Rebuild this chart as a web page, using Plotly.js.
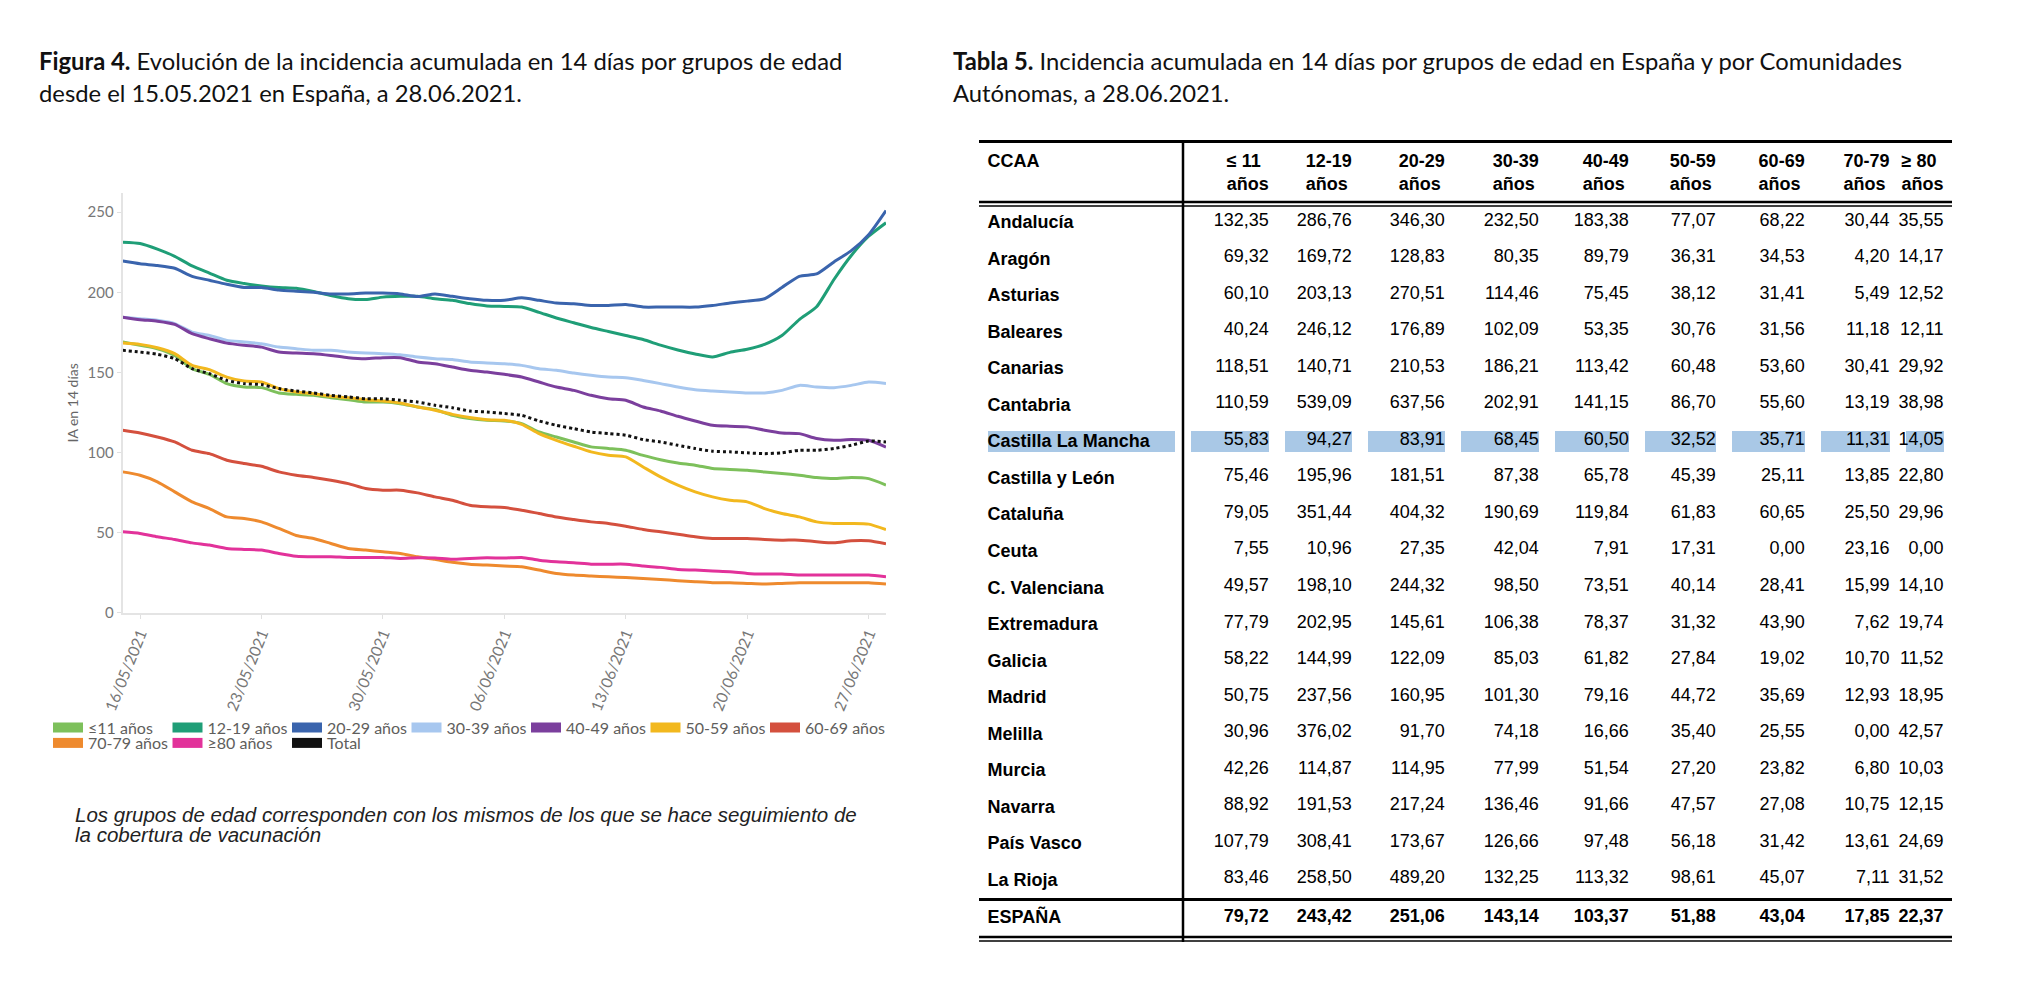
<!DOCTYPE html>
<html><head><meta charset="utf-8">
<script src="https://cdn.plot.ly/plotly-3.0.1.min.js"></script>
<style>html,body{margin:0;padding:0;background:#fff}#chart{width:2019px;height:992px}</style>
</head><body><div id="chart"></div>
<script>
// ---------- Figure 4 data (IA 14 días) ----------
const fechas = ["2021-05-15","2021-05-16","2021-05-17","2021-05-18","2021-05-19","2021-05-20","2021-05-21","2021-05-22","2021-05-23","2021-05-24","2021-05-25","2021-05-26","2021-05-27","2021-05-28","2021-05-29","2021-05-30","2021-05-31","2021-06-01","2021-06-02","2021-06-03","2021-06-04","2021-06-05","2021-06-06","2021-06-07","2021-06-08","2021-06-09","2021-06-10","2021-06-11","2021-06-12","2021-06-13","2021-06-14","2021-06-15","2021-06-16","2021-06-17","2021-06-18","2021-06-19","2021-06-20","2021-06-21","2021-06-22","2021-06-23","2021-06-24","2021-06-25","2021-06-26","2021-06-27","2021-06-28"];
const ia_le11 = [169,166.9,164.8,160.6,152.3,148.8,143,140.9,140.5,137.2,136.3,135.7,134.2,133,131.5,131.5,130.5,128.4,126.8,123.2,121.2,120.1,119.7,118,112.8,109.7,106.6,103.5,102.5,101.4,98.2,95.5,93.5,92.1,90,89.4,88.9,87.9,86.9,85.8,84.4,83.7,84.4,83.7,79.72];
const ia_12_19 = [231.3,230.5,227,222.5,216.5,212,207.5,205.5,204,203,202.5,200.5,198,196,195.5,197,197.5,197.5,196,195,193,191.5,191.2,190.8,187.5,184,181,178,175.5,173,170.5,167,164,161.5,159.6,162.5,164.5,167.5,173,183,191,208,223,235,243.42];
const ia_20_29 = [219.5,217.8,216.7,215,210,207.5,205,203,203,201.5,200.7,200,199,199,199.5,199.5,199,197.4,199,197.5,196,195,195,196.6,195,193.3,192.9,191.8,191.8,192.4,190.8,190.8,190.8,190.8,191.8,193.3,194.5,196,203,210,211.5,219,226,236,251.06];
const ia_30_39 = [184.5,183.5,182.5,180.4,175.2,173.1,170,169,167.9,165.8,164.8,163.8,163.8,162.7,162.1,161.7,161,159.6,158.6,158,156.5,155.9,155.4,154.4,152.3,151.3,149.6,148.2,147.1,146.7,145,143,140.9,139.2,138.4,137.8,137.2,137.2,138.8,141.9,140.9,140.5,141.9,144,143.14];
const ia_40_49 = [184.5,182.9,182,180,174.2,171,168.3,166.9,165.8,162.7,162.1,161.7,160.6,159.2,158.6,159.2,159.2,156.5,155.4,153.4,151.3,150.2,148.8,147.1,144,140.9,138.8,135.7,133.6,132.6,128.4,125.9,122.6,119.7,117,116.4,116,113.9,112.2,111.8,108.7,107.6,108.1,107.6,103.37];
const ia_50_59 = [168.3,167.5,165.4,161.7,154.4,151.7,147.1,144.6,144,139.9,137.8,136.7,135.1,134.2,133,132.2,130.9,128.4,126.4,123.8,121.8,120.5,120.1,117.6,111.8,107.6,103.9,100.4,98.3,97.3,91,84.8,79.6,75.4,72.3,70.2,69.2,65,61.9,59.8,56.7,55.7,55.7,55.3,51.88];
const ia_60_69 = [113.9,112.2,109.7,106.6,101.4,99.3,95.2,93.1,91.4,87.9,85.8,84.4,82.7,80.6,77.5,76.5,76.5,74.8,72.3,70.2,67.1,66.1,65.7,64,61.9,59.8,58.2,56.7,55.7,54,52,50.5,49,47.4,46.3,46.3,46.3,45.7,45.3,45.3,44.3,43.6,44.9,44.9,43.04];
const ia_70_79 = [87.9,85.8,81.7,75.4,69.2,65,59.8,58.8,56.7,52.6,48.2,46.3,43.2,40.1,39.1,38,37,34.9,33.3,31.5,30.3,29.7,29.1,28.7,26.6,24.5,23.5,22.9,22.4,22,21.4,20.8,20,19.3,18.7,18.7,18.3,17.9,18.3,18.7,18.7,18.7,18.7,18.7,17.85];
const ia_ge80 = [50.5,49.5,47.4,45.7,43.6,42.2,40.1,39.5,39.1,37,35.3,34.9,34.9,34.5,34.5,34.5,33.9,34.3,34.1,33.3,33.9,34.3,34.1,34.5,32.8,31.8,31.2,30.3,30.3,30.3,29.1,28.3,27,26.6,26,25.6,24.5,24.1,24.1,23.5,23.5,23.5,23.5,23.5,22.37];
const ia_total = [163.8,162.7,161.3,158.6,152.3,149.2,145,143,142.4,139.9,138.4,137.2,135.7,134.7,133.6,133.6,132.6,131.5,129.5,128,125.9,125.3,124.3,123.2,119.7,117,114.9,112.8,111.8,110.8,108.1,106.6,104.5,102.5,100.8,100.4,99.8,99.3,99.8,101.4,101.4,102.5,104.5,107.2,106.6];
const serieNombres = ["≤11 años","12-19 años","20-29 años","30-39 años","40-49 años","50-59 años","60-69 años","70-79 años","≥80 años","Total"];

// ---------- Tabla 5 data ----------
const ccaa = ["Andalucía","Aragón","Asturias","Baleares","Canarias","Cantabria","Castilla La Mancha","Castilla y León","Cataluña","Ceuta","C. Valenciana","Extremadura","Galicia","Madrid","Melilla","Murcia","Navarra","País Vasco","La Rioja","ESPAÑA"];
const t_le11 = [132.35,69.32,60.10,40.24,118.51,110.59,55.83,75.46,79.05,7.55,49.57,77.79,58.22,50.75,30.96,42.26,88.92,107.79,83.46,79.72];
const t_12_19 = [286.76,169.72,203.13,246.12,140.71,539.09,94.27,195.96,351.44,10.96,198.10,202.95,144.99,237.56,376.02,114.87,191.53,308.41,258.50,243.42];
const t_20_29 = [346.30,128.83,270.51,176.89,210.53,637.56,83.91,181.51,404.32,27.35,244.32,145.61,122.09,160.95,91.70,114.95,217.24,173.67,489.20,251.06];
const t_30_39 = [232.50,80.35,114.46,102.09,186.21,202.91,68.45,87.38,190.69,42.04,98.50,106.38,85.03,101.30,74.18,77.99,136.46,126.66,132.25,143.14];
const t_40_49 = [183.38,89.79,75.45,53.35,113.42,141.15,60.50,65.78,119.84,7.91,73.51,78.37,61.82,79.16,16.66,51.54,91.66,97.48,113.32,103.37];
const t_50_59 = [77.07,36.31,38.12,30.76,60.48,86.70,32.52,45.39,61.83,17.31,40.14,31.32,27.84,44.72,35.40,27.20,47.57,56.18,98.61,51.88];
const t_60_69 = [68.22,34.53,31.41,31.56,53.60,55.60,35.71,25.11,60.65,0.00,28.41,43.90,19.02,35.69,25.55,23.82,27.08,31.42,45.07,43.04];
const t_70_79 = [30.44,4.20,5.49,11.18,30.41,13.19,11.31,13.85,25.50,23.16,15.99,7.62,10.70,12.93,0.00,6.80,10.75,13.61,7.11,17.85];
const t_ge80 = [35.55,14.17,12.52,12.11,29.92,38.98,14.05,22.80,29.96,0.00,14.10,19.74,11.52,18.95,42.57,10.03,12.15,24.69,31.52,22.37];
const tablaCabecera = ["CCAA","≤ 11<br>años","12-19<br>años","20-29<br>años","30-39<br>años","40-49<br>años","50-59<br>años","60-69<br>años","70-79<br>años","≥ 80<br>años"];
const filaResaltada = "Castilla La Mancha";

// ---------- layout helpers ----------
const W = 2019, H = 992;
const px = v => v / W, py = v => 1 - v / H;
const colores = ["#7dc05b","#1f9e77","#3a64ad","#a7c7ef","#7b3f9d","#f2b81e","#d4503e","#ee8a2e","#e2329a","#111111"];
const series = [ia_le11, ia_12_19, ia_20_29, ia_30_39, ia_40_49, ia_50_59, ia_60_69, ia_70_79, ia_ge80, ia_total];
const FT = "Lato, 'Open Sans', sans-serif";
const FTAB = "'Liberation Sans', Arial, sans-serif";

const traces = [];
series.forEach((s, i) => {
  traces.push({
    type: 'scatter', mode: 'lines', x: fechas, y: s, name: serieNombres[i], showlegend: false,
    line: {color: colores[i], width: 3, shape: 'spline', smoothing: 0.6, dash: i === 9 ? 'dot' : 'solid'},
    hoverinfo: 'x+y+name'
  });
});
// legend swatches
series.forEach((s, i) => {
  traces.push({
    type: 'scatter', mode: 'lines', x: [null], y: [null], name: serieNombres[i], showlegend: true,
    legend: i < 7 ? 'legend' : 'legend2', line: {color: colores[i], width: 11}
  });
});

// table
const fmt = v => v.toFixed(2).replace('.', ',');
const last = ccaa.length - 1;
const numCols = [t_le11, t_12_19, t_20_29, t_30_39, t_40_49, t_50_59, t_60_69, t_70_79, t_ge80];
const cellVals = [ccaa.map(n => '<b>' + n + '</b>')].concat(numCols.map(c => c.map((v, r) => r === last ? '<b>' + fmt(v) + '</b>' : fmt(v))));
const hi = ccaa.indexOf(filaResaltada);
const fillArr = cellVals.map(() => ccaa.map((n, r) => r === hi ? '#a9c8e6' : '#ffffff'));
const lwArr = cellVals.map(() => ccaa.map((n, r) => r === hi ? 16 : 1));
const alignArr = ['left'].concat(Array(9).fill('right'));
traces.push({
  type: 'table',
  domain: {x: [px(979.6), px(1952)], y: [py(936), py(143)]},
  columnwidth: [203.4, 94, 83, 93, 94, 90, 87, 89, 85, 54],
  header: {
    values: tablaCabecera.map(t => '<b>' + t + '</b>'),
    align: alignArr, height: 61,
    font: {family: FTAB, size: 18, color: '#000'},
    fill: {color: '#ffffff'}, line: {color: '#ffffff', width: 1}
  },
  cells: {
    values: cellVals, align: alignArr, height: 36.55,
    font: {family: FTAB, size: 18, color: '#000'},
    fill: {color: fillArr}, line: {color: '#ffffff', width: lwArr}
  }
});

// table rules (decoration)
const k = '#000';
const hl = (y, w) => ({type:'line', xref:'paper', yref:'paper', x0:px(979), x1:px(1952), y0:py(y), y1:py(y), line:{color:k, width:w}});
const shapes = [
  hl(141.5, 3), hl(202, 2.5), hl(206, 1.5), hl(899.5, 3), hl(937, 2.5), hl(941, 1.5),
  {type:'line', xref:'paper', yref:'paper', x0:px(1183), x1:px(1183), y0:py(141), y1:py(942), line:{color:k, width:2.5}}
];

const ann = (text, x, y, size, opts) => Object.assign({text, xref:'paper', yref:'paper', x:px(x), y:py(y), xanchor:'left', yanchor:'middle', showarrow:false, font:{family:FT, size, color:'#111'}}, opts || {});
const capFont = {family:"'Liberation Sans', Arial, sans-serif", size:20.5, color:'#222'};
const annotations = [
  ann('<b>Figura 4.</b> Evolución de la incidencia acumulada en 14 días por grupos de edad', 37, 60.5, 23.8),
  ann('desde el 15.05.2021 en España, a 28.06.2021.', 37, 92.7, 23.8),
  ann('<b>Tabla 5.</b> Incidencia acumulada en 14 días por grupos de edad en España y por Comunidades', 951, 60.5, 23.8),
  ann('Autónomas, a 28.06.2021.', 951, 92.7, 23.8),
  ann('<i>Los grupos de edad corresponden con los mismos de los que se hace seguimiento de</i>', 73, 814, 20.5, {font: capFont}),
  ann('<i>la cobertura de vacunación</i>', 73, 834.5, 20.5, {font: capFont})
];

const legFont = {family: FT, size: 16, color: '#605e5c'};
const legBase = {orientation: 'h', xanchor: 'left', yanchor: 'middle', entrywidth: 74.5, itemwidth: 30, font: legFont, bgcolor: 'rgba(0,0,0,0)', traceorder: 'normal'};
const layout = {
  width: W, height: H, margin: {l:0, r:0, t:0, b:0}, paper_bgcolor: '#fff', plot_bgcolor: '#fff',
  font: {family: FT},
  xaxis: {domain: [px(122.7), px(886)], type: 'date', range: ['2021-05-15', '2021-06-28'],
    tick0: '2021-05-16', dtick: 7 * 86400000, tickformat: '%d/%m/%Y', tickangle: -68,
    showgrid: false, zeroline: false, showline: true, linecolor: '#e4e4e4', linewidth: 2,
    ticks: 'outside', ticklen: 4, tickcolor: '#e0e0e0', tickfont: {family: FT, size: 15.5, color: '#777'}},
  yaxis: {domain: [py(612.7), py(193)], range: [0, 262], tickvals: [0, 50, 100, 150, 200, 250],
    showgrid: false, zeroline: false, showline: true, linecolor: '#e4e4e4', linewidth: 2,
    ticks: 'outside', ticklen: 4, tickcolor: '#e0e0e0', tickfont: {family: FT, size: 15, color: '#777'},
    title: {text: 'IA en 14 días', font: {family: FT, size: 14, color: '#666'}, standoff: 6}},
  legend: Object.assign({x: px(48), y: py(727.5)}, legBase),
  legend2: Object.assign({x: px(48), y: py(743)}, legBase),
  shapes, annotations, hovermode: 'closest'
};
Plotly.newPlot('chart', traces, layout, {displayModeBar: false, staticPlot: true});
</script></body></html>
